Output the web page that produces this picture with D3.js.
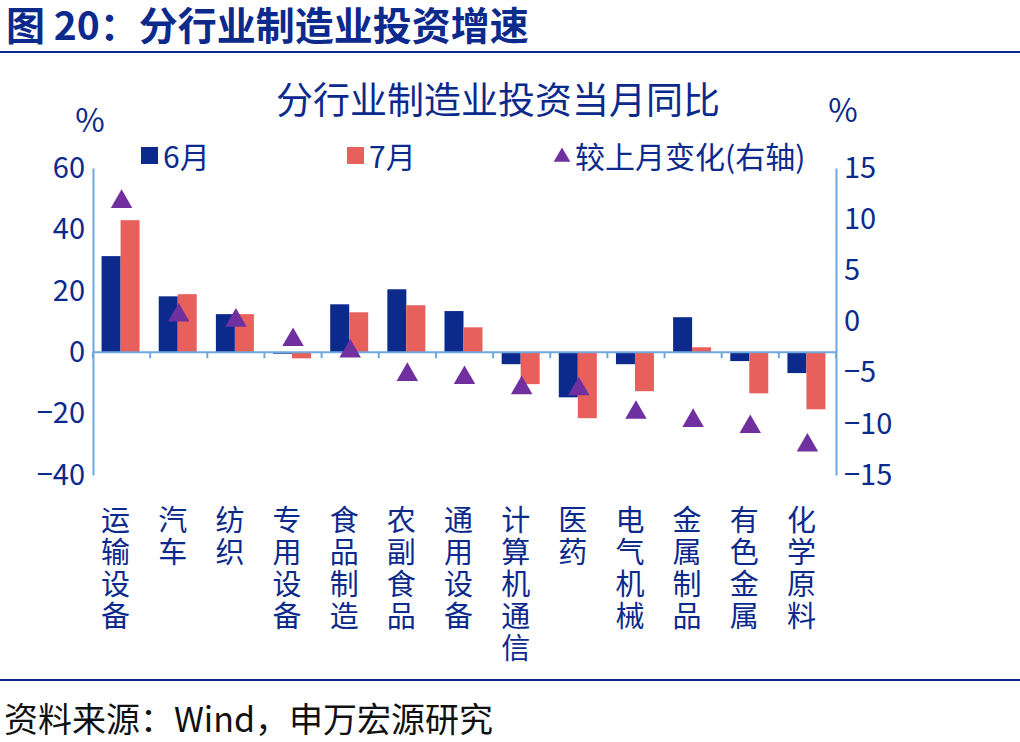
<!DOCTYPE html>
<html><head><meta charset="utf-8">
<script src="https://cdn.jsdelivr.net/npm/d3@7"></script>
<style>body{margin:0;background:#fff}text{font-family:"Noto Sans CJK SC","Noto Sans",sans-serif}</style>
</head><body><svg width="1020" height="742"></svg>
<script>
var categories = ["运输设备","汽车","纺织","专用设备","食品制造","农副食品","通用设备","计算机通信","医药","电气机械","金属制品","有色金属","化学原料"];
var june = [31.3,18.2,12.4,-0.5,15.6,20.5,13.4,-3.9,-14.7,-3.9,11.4,-2.9,-6.8];
var july = [43,18.9,12.4,-2,13,15.3,8.1,-10.4,-21.5,-12.7,1.6,-13.4,-18.6];
var change = [11.7,0.6,0.1,-1.8,-2.9,-5.2,-5.5,-6.5,-6.6,-8.9,-9.7,-10.3,-12.1];
var leftTicks = [60,40,20,0,-20,-40];
var rightTicks = [15,10,5,0,-5,-10,-15];

var blue = "#0b2a8c", red = "#e8605c", purple = "#7030a0", axisCol = "#6fa8dc", txt = "#0b2a8c";
var svg = d3.select("svg");

// header
svg.append("text").attr("x", 6).attr("y", 40).attr("font-size", 39).attr("font-weight", "bold")
  .attr("fill", blue).text("图 20：分行业制造业投资增速");
svg.append("line").attr("x1", 0).attr("x2", 1020).attr("y1", 52).attr("y2", 52).attr("stroke", blue).attr("stroke-width", 2);
svg.append("line").attr("x1", 0).attr("x2", 1020).attr("y1", 680).attr("y2", 680).attr("stroke", blue).attr("stroke-width", 2);
svg.append("text").attr("x", 4).attr("y", 732).attr("font-size", 34).attr("fill", "#111").text("资料来源：Wind，申万宏源研究");

svg.append("text").attr("x", 498).attr("y", 114).attr("text-anchor", "middle").attr("font-size", 37).attr("fill", txt).text("分行业制造业投资当月同比");
svg.append("text").attr("x", 90).attr("y", 132).attr("text-anchor", "middle").attr("font-size", 32).attr("fill", txt).text("%");
svg.append("text").attr("x", 843).attr("y", 122).attr("text-anchor", "middle").attr("font-size", 32).attr("fill", txt).text("%");

var x = d3.scaleBand().domain(categories).range([93, 836]);
var y = d3.scaleLinear().domain([-40, 60]).range([475, 168]);
var y2 = d3.scaleLinear().domain([-15, 15]).range([475, 168]);

var gl = svg.append("g").attr("transform", "translate(93,0)")
  .call(d3.axisLeft(y).tickValues(leftTicks).tickSize(0).tickPadding(14).tickFormat(d3.format("d")));
var gr = svg.append("g").attr("transform", "translate(836,0)")
  .call(d3.axisRight(y2).tickValues(rightTicks).tickSize(0).tickPadding(8).tickFormat(d3.format("d")));
[gl, gr].forEach(function(g) {
  g.select(".domain").attr("stroke", axisCol).attr("stroke-width", 2);
  g.selectAll("text").attr("font-size", 29).attr("fill", txt).attr("font-family", "Liberation Sans, Arial");
});
gl.selectAll("text").attr("x", -8);

var bw = 19;
svg.selectAll(".b6").data(categories).enter().append("rect")
  .attr("x", function(d) { return x(d) + x.bandwidth() / 2 - bw - 1; })
  .attr("y", function(d, i) { return y(Math.max(0, june[i])); })
  .attr("width", bw)
  .attr("height", function(d, i) { return Math.abs(y(june[i]) - y(0)); })
  .attr("fill", blue);
svg.selectAll(".b7").data(categories).enter().append("rect")
  .attr("x", function(d) { return x(d) + x.bandwidth() / 2 - 1; })
  .attr("y", function(d, i) { return y(Math.max(0, july[i])); })
  .attr("width", bw)
  .attr("height", function(d, i) { return Math.abs(y(july[i]) - y(0)); })
  .attr("fill", red);

// zero line
svg.append("line").attr("x1", 93).attr("x2", 836).attr("y1", y(0)).attr("y2", y(0)).attr("stroke", axisCol).attr("stroke-width", 2);
svg.selectAll(".tk").data(d3.range(categories.length + 1)).enter().append("line")
  .attr("x1", function(i) { return 93 + i * x.bandwidth(); })
  .attr("x2", function(i) { return 93 + i * x.bandwidth(); })
  .attr("y1", y(0)).attr("y2", y(0) + 6).attr("stroke", axisCol).attr("stroke-width", 2);

var tri = d3.symbol().type(d3.symbolTriangle).size(200);
svg.selectAll(".tri").data(categories).enter().append("path")
  .attr("d", tri)
  .attr("transform", function(d, i) { return "translate(" + (x(d) + x.bandwidth() / 2) + "," + y2(change[i]) + ")"; })
  .attr("fill", purple);

// category labels, one character per line
categories.forEach(function(c) {
  c.split("").forEach(function(ch, j) {
    svg.append("text").attr("font-size", 29).attr("fill", txt).attr("text-anchor", "middle")
      .attr("x", x(c) + x.bandwidth() / 2 - 6).attr("y", 531 + j * 32).text(ch);
  });
});

// legend
svg.append("rect").attr("x", 141).attr("y", 147).attr("width", 17).attr("height", 17).attr("fill", blue);
svg.append("text").attr("x", 163).attr("y", 168).attr("font-size", 30).attr("fill", txt).text("6月");
svg.append("rect").attr("x", 347).attr("y", 147).attr("width", 17).attr("height", 17).attr("fill", red);
svg.append("text").attr("x", 369).attr("y", 168).attr("font-size", 30).attr("fill", txt).text("7月");
svg.append("path").attr("d", d3.symbol().type(d3.symbolTriangle).size(120)).attr("transform", "translate(562,157)").attr("fill", purple);
svg.append("text").attr("x", 575).attr("y", 168).attr("font-size", 30).attr("fill", txt).text("较上月变化(右轴)");
</script></body></html>
